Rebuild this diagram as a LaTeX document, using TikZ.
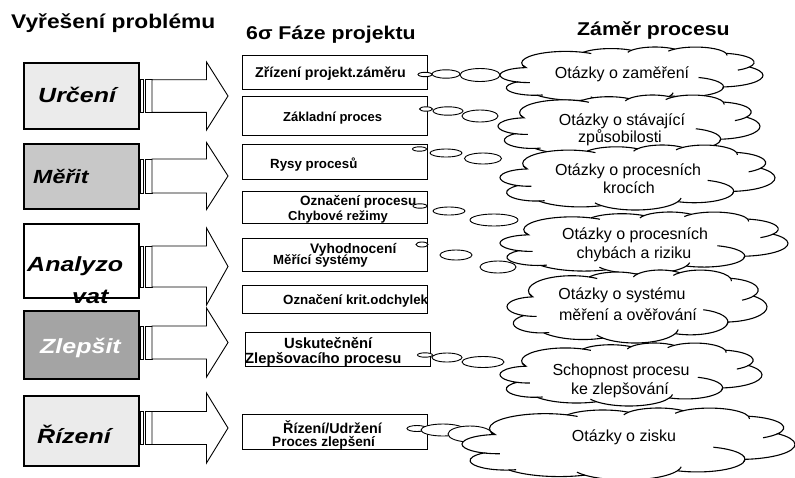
\documentclass[tikz,border=0pt]{standalone}
\usepackage{fontspec}
\setmainfont{Liberation Sans}
\newfontfamily\headfont{Liberation Sans}[FakeStretch=1.15]
\newfontfamily\phasefont{Liberation Sans}[FakeStretch=1.22]
\usetikzlibrary{shapes.geometric}

\definecolor{boxlight}{HTML}{EBEBEB}
\definecolor{boxmid}{HTML}{C8C8C8}
\definecolor{boxdark}{HTML}{A4A4A4}

% Cloud outline (eleven lobes) with the short inner arcs, drawn into the box
% whose top-left corner is (#1,#2), width #3 and height #4.
\newcommand\calloutcloud[4]{%
  \begin{scope}[shift={(#1,#2)}, xscale=#3/403.9, yscale=#4/444.67, shift={(-4.56,-0.22)}]
    \filldraw[cloudline, fill=white] (39.00,143.70)
      arc[start angle=-190.49, delta angle=123.78, x radius=67.53, y radius=91.90]
      arc[start angle=-144.10, delta angle=89.95,  x radius=53.33, y radius=72.67]
      arc[start angle=-145.81, delta angle=99.72,  x radius=43.65, y radius=59.45]
      arc[start angle=-130.99, delta angle=117.24, x radius=48.57, y radius=65.95]
      arc[start angle=-78.71,  delta angle=109.03, x radius=53.33, y radius=72.73]
      arc[start angle=-46.27,  delta angle=130.27, x radius=67.75, y radius=92.20]
      arc[start angle=0.625,   delta angle=114.03, x radius=57.85, y radius=78.67]
      arc[start angle=22.45,   delta angle=115.17, x radius=67.52, y radius=92.15]
      arc[start angle=66.24,   delta angle=75.71,  x radius=77.20, y radius=105.43]
      arc[start angle=85.06,   delta angle=146.74, x radius=43.60, y radius=59.18]
      arc[start angle=113.17,  delta angle=152.52, x radius=43.45, y radius=59.45]
      -- cycle;
    \draw[cloudline] (50.48,282.56) arc[start angle=86.74, end angle=113.17, x radius=43.45, y radius=59.45];
    \draw[cloudline] (70.17,381.16) arc[start angle=73.61, end angle=85.06, x radius=43.60, y radius=59.18];
    \draw[cloudline] (153.54,414.87) arc[start angle=137.62, end angle=151.70, x radius=67.52, y radius=92.15];
    \draw[cloudline] (270.49,363.09) arc[start angle=6.45, end angle=22.45, x radius=67.52, y radius=92.15];
    \draw[cloudline] (309.45,242.37) arc[start angle=-70.29, end angle=11.29, x radius=57.85, y radius=78.67];
    \draw[cloudline] (387.55,158.98) arc[start angle=30.32, end angle=58.07, x radius=53.33, y radius=72.73];
    \draw[cloudline] (351.96,50.96) arc[start angle=-13.74, end angle=1.12, x radius=48.57, y radius=65.95];
    \draw[cloudline] (263.06,32.85) arc[start angle=-149.18, end angle=-130.98, x radius=48.57, y radius=65.95];
    \draw[cloudline] (200.79,42.78) arc[start angle=-163.49, end angle=-145.80, x radius=43.65, y radius=59.45];
    \draw[cloudline] (132.10,42.56) arc[start angle=-66.71, end angle=-54.39, x radius=67.53, y radius=91.90];
    \draw[cloudline] (42.94,161.91) arc[start angle=157.65, end angle=169.51, x radius=67.53, y radius=91.90];
  \end{scope}}

% Striped block arrow: centre line #1, half shaft #2, half head #3
\newcommand\blockarrow[3]{%
  \filldraw[arrowline] (140,#1-#2) rectangle (143.5,#1+#2);
  \filldraw[arrowline] (145.5,#1-#2) rectangle (152,#1+#2);
  \filldraw[arrowline] (152,#1-#2) -- (206.5,#1-#2) -- (206.5,#1-#3) -- (228,#1)
    -- (206.5,#1+#3) -- (206.5,#1+#2) -- (152,#1+#2) -- cycle;}

\begin{document}
\begin{tikzpicture}[x=1pt, y=-1pt,
  phasebox/.style={draw=black, line width=2.3pt, minimum width=115pt, inner sep=0pt},
  stepbox/.style={draw=black, line width=0.8pt, fill=white, minimum width=185pt, inner sep=0pt},
  arrowline/.style={draw=black, line width=0.9pt, fill=white, line join=miter},
  cloudline/.style={draw=black, line width=1.1pt},
  bubble/.style={ellipse, draw=black, line width=0.9pt, fill=white, inner sep=0pt},
  headtext/.style={anchor=base west, inner sep=0pt, font=\headfont\bfseries\fontsize{18.5}{22}\selectfont},
  phaselabel/.style={anchor=base west, inner sep=0pt, font=\phasefont\bfseries\itshape\fontsize{20.5}{22}\selectfont},
  steptext/.style={anchor=base west, inner sep=0pt},
  cloudtext/.style={anchor=base, inner sep=0pt, font=\fontsize{16}{19}\selectfont}]

\useasboundingbox (0,0) rectangle (795,477);
\clip (0,0) rectangle (795,477);

% column headings
\node[headtext, font=\headfont\bfseries\fontsize{19.8}{22}\selectfont] (h1) at (11,28) {Vyřešení problému};
\node[headtext] (h2) at (246,39) {6σ Fáze projektu};
\node[headtext] (h3) at (577,35) {Záměr procesu};

% phase boxes
\node[phasebox, fill=boxlight, minimum height=66pt] (p1) at (81.5,96) {};
\node[phasebox, fill=boxmid, minimum height=65pt] (p2) at (81.5,176.5) {};
\node[phasebox, fill=white, minimum height=74pt] (p3) at (81.5,261) {};
\node[phasebox, fill=boxdark, minimum height=68pt] (p4) at (81.5,345) {};
\node[phasebox, fill=boxlight, minimum height=70pt] (p5) at (81.5,431) {};

\node[phaselabel] (t1) at (38,102) {Určení};
\node[phaselabel, font=\phasefont\bfseries\itshape\fontsize{19}{22}\selectfont] (t2) at (33,183) {Měřit};
\node[phaselabel] (t3a) at (27,271) {Analyzo};
\node[phaselabel] (t3b) at (72,303) {vat};
\node[phaselabel, text=white] (t4) at (40,353) {Zlepšit};
\node[phaselabel] (t5) at (37,443) {Řízení};

% striped arrows from the phases to the project steps
\blockarrow{96}{16.3}{34}
\blockarrow{176}{17}{33.5}
\blockarrow{266.5}{20.5}{38.5}
\blockarrow{342.5}{16.5}{34.5}
\blockarrow{428}{16.5}{35}

% project steps
\node[stepbox, minimum height=34pt] (s1) at (335,72) {};
\node[stepbox, minimum height=39pt] (s2) at (335,116.3) {};
\node[stepbox, minimum height=35pt] (s3) at (335,161.5) {};
\node[stepbox, minimum height=32pt] (s4) at (335,207) {};
\node[stepbox, minimum height=33pt] (s5) at (335,254.5) {};
\node[stepbox, minimum height=28pt] (s6) at (335,299) {};
\node[stepbox, minimum height=34pt] (s7) at (337.5,349) {};
\node[stepbox, minimum height=35pt] (s8) at (335,431.5) {};

\node[steptext, font=\bfseries\fontsize{14.2}{16}\selectfont] (s1t) at (255,77.5) {Zřízení projekt.záměru};
\node[steptext, font=\bfseries\fontsize{13}{16}\selectfont] (s2t) at (283,121.5) {Základní proces};
\node[steptext, font=\bfseries\fontsize{13.3}{16}\selectfont] (s3t) at (270,168) {Rysy procesů};
\node[steptext, font=\bfseries\fontsize{13.5}{16}\selectfont] (s4t) at (300,205.5) {Označení procesu};
\node[steptext, font=\bfseries\fontsize{13}{16}\selectfont] (s4u) at (288,220) {Chybové režimy};
\node[steptext, font=\bfseries\fontsize{13.8}{16}\selectfont] (s5t) at (310,253) {Vyhodnocení};
\node[steptext, font=\bfseries\fontsize{13.2}{16}\selectfont] (s5u) at (273,264.5) {Měřící systémy};
\node[steptext, font=\bfseries\fontsize{13.3}{16}\selectfont] (s6t) at (283,304) {Označení krit.odchylek};
\node[steptext, font=\bfseries\fontsize{14.8}{16}\selectfont] (s7t) at (284,348.5) {Uskutečnění};
\node[steptext, font=\bfseries\fontsize{14.8}{16}\selectfont] (s7u) at (245,363) {Zlepšovacího procesu};
\node[steptext, font=\bfseries\fontsize{14.3}{16}\selectfont] (s8t) at (283,433) {Řízení/Udržení};
\node[steptext, font=\bfseries\fontsize{13.6}{16}\selectfont] (s8u) at (272,446.5) {Proces zlepšení};

% 1
\node[bubble, minimum width=14pt, minimum height=4.4pt] (c1a) at (425,74.5) {};
\node[bubble, minimum width=28pt, minimum height=8.4pt] (c1b) at (446,74) {};
\node[bubble, minimum width=40pt, minimum height=13pt] (c1c) at (480,75) {};
\calloutcloud{500}{47}{263}{56}
\node[cloudtext] (q1) at (622,78) {Otázky o zaměření};

% 2
\node[bubble, minimum width=13pt, minimum height=4.4pt] (c2a) at (426,109) {};
\node[bubble, minimum width=30pt, minimum height=8.4pt] (c2b) at (448,111) {};
\node[bubble, minimum width=36pt, minimum height=12pt] (c2c) at (480,116) {};
\calloutcloud{498}{95}{262}{62}
\node[cloudtext] (q2) at (622,125) {Otázky o stávající};
\node[cloudtext] (q2b) at (620,142) {způsobilosti};

% 3
\node[bubble, minimum width=14pt, minimum height=4.4pt] (c3a) at (419.5,149) {};
\node[bubble, minimum width=32pt, minimum height=8pt] (c3b) at (446,153) {};
\node[bubble, minimum width=37pt, minimum height=11pt] (c3c) at (483,158.5) {};
\calloutcloud{500}{145}{275}{65}
\node[cloudtext] (q3) at (628,175) {Otázky o procesních};
\node[cloudtext] (q3b) at (629,193) {krocích};

% 4
\node[bubble, minimum width=14pt, minimum height=4.4pt] (c4a) at (420,206) {};
\node[bubble, minimum width=32pt, minimum height=8pt] (c4b) at (449,211) {};
\node[bubble, minimum width=48pt, minimum height=12pt] (c4c) at (494,220) {};
\calloutcloud{500}{212}{288}{62}
\node[cloudtext] (q4) at (635,239) {Otázky o procesních};
\node[cloudtext] (q4b) at (634,258) {chybách a riziku};

% 5
\node[bubble, minimum width=12pt, minimum height=5pt] (c5a) at (422,244.5) {};
\node[bubble, minimum width=32pt, minimum height=10pt] (c5b) at (456,255) {};
\node[bubble, minimum width=36pt, minimum height=12pt] (c5c) at (498,267) {};
\calloutcloud{507}{270}{260}{73}
\node[cloudtext] (q5) at (622,299) {Otázky o systému};
\node[cloudtext] (q5b) at (628,320.5) {měření a ověřování};

% 6
\node[bubble, minimum width=15pt, minimum height=4.4pt] (c6a) at (425,355) {};
\node[bubble, minimum width=30pt, minimum height=9pt] (c6b) at (447,357.5) {};
\node[bubble, minimum width=42pt, minimum height=11pt] (c6c) at (483,362) {};
\calloutcloud{500}{343}{262}{63}
\node[cloudtext] (q6) at (621,375) {Schopnost procesu};
\node[cloudtext] (q6b) at (620,394) {ke zlepšování};

% 7
\node[bubble, minimum width=20pt, minimum height=6pt] (c7a) at (417,428.5) {};
\node[bubble, minimum width=44pt, minimum height=12pt] (c7b) at (443,430) {};
\node[bubble, minimum width=44pt, minimum height=16pt] (c7c) at (470,434) {};
\calloutcloud{462}{408}{333}{72}
\node[cloudtext] (q7) at (624,441) {Otázky o zisku};

\end{tikzpicture}
\end{document}
